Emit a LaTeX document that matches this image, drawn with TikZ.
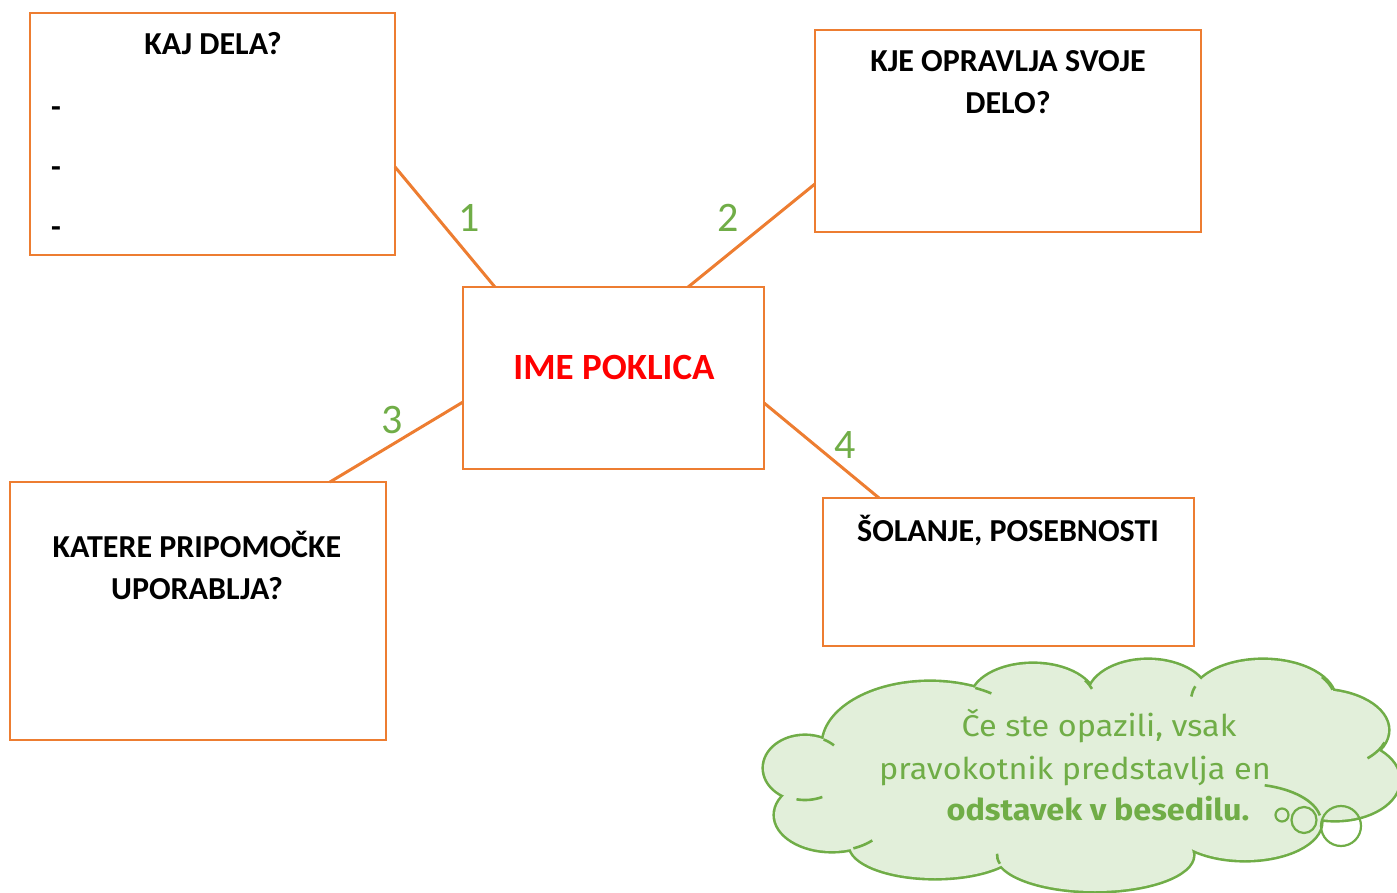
\documentclass[tikz,border=0pt]{standalone}
\usepackage{fontspec}
\setmainfont{Carlito}
\newfontfamily\cloudfont[FakeStretch=1.08]{Fira Sans}
\usetikzlibrary{calc}
\definecolor{orng}{HTML}{ED7D31}
\definecolor{grn}{HTML}{70AD47}
\definecolor{cloudfill}{HTML}{E2EFDA}
\tikzset{
 box/.style={draw=orng, line width=2.4pt, anchor=north west, inner sep=0pt, outer sep=0pt},
 head/.style={anchor=base, inner sep=0pt, font=\bfseries\fontsize{32}{38}\selectfont},
 num/.style={anchor=base, inner sep=0pt, text=grn, font=\fontsize{42}{50}\selectfont},
 link/.style={draw=orng, line width=3pt},
 ctext/.style={anchor=base, inner sep=0pt, text=grn, font=\cloudfont\fontsize{30}{36}\selectfont},
 cline/.style={draw=grn, line width=2.6pt},
}
\newcommand{\lobetail}[6]{\draw[cline, shift={(#1,#2)}] (#5:#3pt and #4pt) arc[start angle=#5, end angle=#6, x radius=#3pt, y radius=#4pt];}
\begin{document}
\begin{tikzpicture}[x=1pt,y=-1pt]
\useasboundingbox (0,0) rectangle (1397,893);
% boxes
\node[box, minimum width=365pt, minimum height=242pt] (kaj) at (30,13) {};
\node[box, minimum width=386pt, minimum height=202pt] (kje) at (815,30) {};
\node[box, minimum width=301pt, minimum height=182pt] (ime) at (463,287) {};
\node[box, minimum width=376pt, minimum height=258pt] (katere) at (10,482) {};
\node[box, minimum width=371pt, minimum height=148pt] (sol) at (823,498) {};
% texts
\node[head] (t1) at (213,55) {KAJ DELA?};
\node[head, anchor=base west] (d1) at (51,118) {-};
\node[head, anchor=base west] (d2) at (51,178) {-};
\node[head, anchor=base west] (d3) at (51,238) {-};
\node[head] (t2a) at (1008,72) {KJE OPRAVLJA SVOJE};
\node[head] (t2b) at (1008,114) {DELO?};
\node[head, text=red, font=\bfseries\fontsize{37}{44}\selectfont] (t0) at (614,379) {IME POKLICA};
\node[head] (t3a) at (197,557) {KATERE PRIPOMOČKE};
\node[head] (t3b) at (197,599) {UPORABLJA?};
\node[head] (t4) at (1008,541) {ŠOLANJE, POSEBNOSTI};
% connectors
\draw[link] ($(kaj.north east)!0.636!(kaj.south east)$) -- ($(ime.north west)!0.106!(ime.north east)$);
\draw[link] ($(kje.north west)!0.762!(kje.south west)$) -- ($(ime.north west)!0.748!(ime.north east)$);
\draw[link] ($(ime.north west)!0.632!(ime.south west)$) -- ($(katere.north west)!0.851!(katere.north east)$);
\draw[link] ($(ime.north east)!0.637!(ime.south east)$) -- ($(sol.north west)!0.151!(sol.north east)$);
% numbers
\node[num] (n1) at (469,232) {1};
\node[num] (n2) at (728,232) {2};
\node[num] (n3) at (392,433) {3};
\node[num] (n4) at (845,458) {4};
% cloud
\def\lobes{805/768/41/32, 930/745/107/63, 1033/700/62/36, 1148/697/60/37, 1263/700/72/40, 1318/730/70/40, 1335/780/64/40, 1245/822/76/38, 1095/855/98/36, 935/845/85/33, 832/815/57/36, 1080/780/225/75}
\foreach \cx/\cy/\rx/\ry in \lobes {\draw[grn, line width=5.2pt] (\cx,\cy) ellipse [x radius=\rx pt, y radius=\ry pt];}
\foreach \cx/\cy/\rx/\ry in \lobes {\fill[cloudfill] (\cx,\cy) ellipse [x radius=\rx pt, y radius=\ry pt];}
\lobetail{805}{768}{41}{32}{63}{45}
\lobetail{805}{768}{41}{32}{258}{295}
\lobetail{930}{745}{107}{63}{65}{55}
\lobetail{1033}{700}{62}{36}{33}{18}
\lobetail{1263}{700}{72}{40}{160}{175}
\lobetail{1263}{700}{72}{40}{35}{15}
\lobetail{1318}{730}{70}{40}{-18}{-45}
\lobetail{1245}{822}{76}{38}{10}{75}
\lobetail{1095}{855}{98}{36}{194}{178}
\lobetail{832}{815}{57}{36}{-68}{-45}
% bubbles
\draw[cline, line width=2.2pt] (1282,815) circle[radius=6.5pt];
\draw[cline, line width=2.2pt] (1304,820) ellipse[x radius=12.5pt, y radius=13pt];
\draw[cline, line width=2.2pt] (1341,826) circle[radius=20pt];
% cloud text
\node[ctext] (c1) at (1099,736) {Če ste opazili, vsak};
\node[ctext] (c2) at (1075,779) {pravokotnik predstavlja en};
\node[ctext, font=\cloudfont\bfseries\fontsize{30}{36}\selectfont] (c3) at (1098,820) {odstavek v besedilu.};
\end{tikzpicture}
\end{document}
